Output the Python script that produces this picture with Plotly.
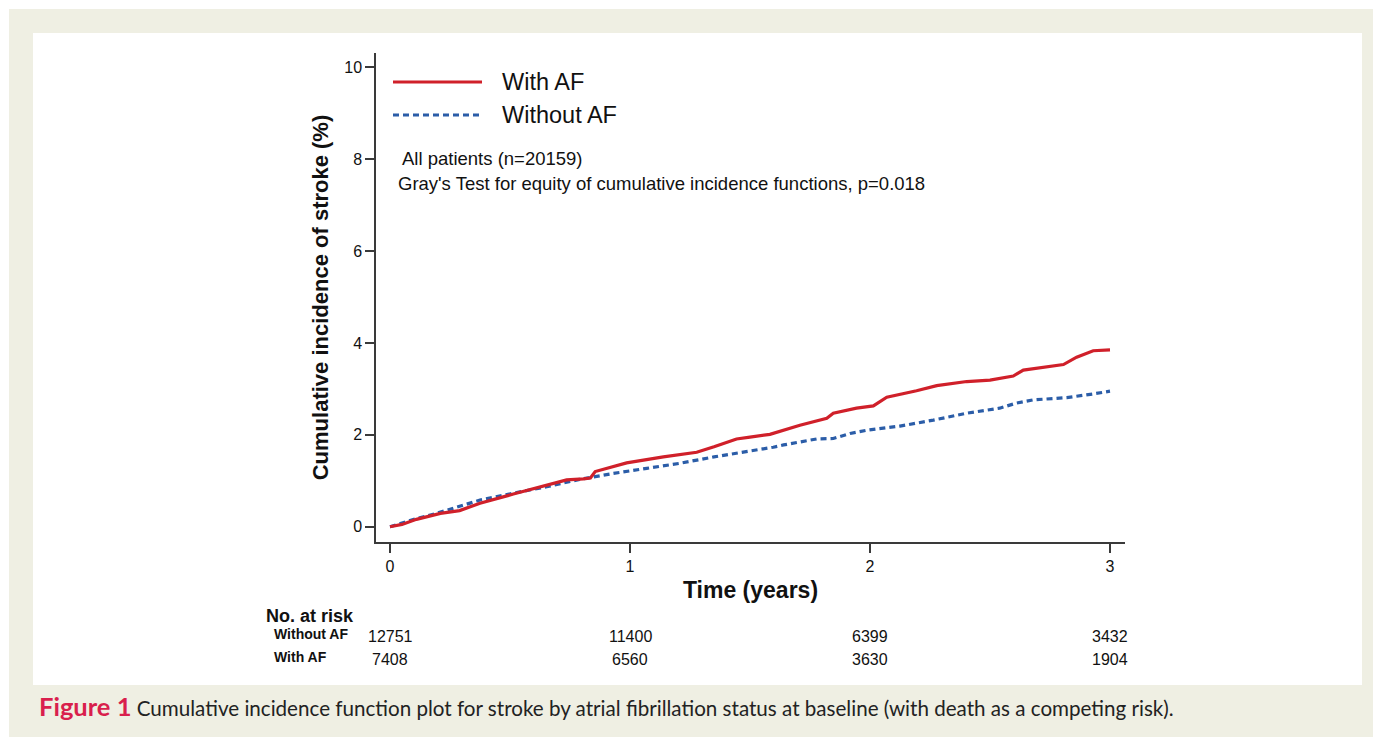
import plotly.graph_objects as go

# ---- data ----
t_with = [0, 0.05, 0.11, 0.21, 0.29, 0.375, 0.514, 0.653, 0.736, 0.806, 0.835, 0.855, 0.931, 0.986,
          1.139, 1.278, 1.35, 1.444, 1.5, 1.583, 1.708, 1.82, 1.847, 1.944, 2.014, 2.07, 2.194,
          2.278, 2.403, 2.5, 2.597, 2.639, 2.806, 2.861, 2.93, 3.0]
y_with = [0, 0.05, 0.16, 0.29, 0.35, 0.51, 0.71, 0.91, 1.02, 1.04, 1.06, 1.2, 1.31, 1.39,
          1.52, 1.62, 1.74, 1.91, 1.95, 2.01, 2.21, 2.36, 2.47, 2.58, 2.63, 2.82, 2.96,
          3.07, 3.16, 3.19, 3.28, 3.41, 3.53, 3.69, 3.83, 3.85]

t_without = [0, 0.1, 0.2, 0.236, 0.375, 0.514, 0.653, 0.79, 0.93, 1.07, 1.208, 1.35, 1.486,
             1.597, 1.64, 1.778, 1.847, 1.917, 1.986, 2.125, 2.264, 2.403, 2.54, 2.61, 2.68,
             2.82, 2.93, 3.0]
y_without = [0, 0.16, 0.3, 0.36, 0.58, 0.73, 0.87, 1.03, 1.16, 1.27, 1.38, 1.52, 1.63,
             1.73, 1.78, 1.91, 1.92, 2.03, 2.10, 2.19, 2.32, 2.47, 2.58, 2.69, 2.76,
             2.81, 2.89, 2.95]

risk_times = [0, 1, 2, 3]
risk_without = ["12751", "11400", "6399", "3432"]
risk_with = ["7408", "6560", "3630", "1904"]

x_ticks = [0, 1, 2, 3]
y_ticks = [0, 2, 4, 6, 8, 10]

RED = "#D0202A"
BLUE = "#2B5DA8"
AXIS = "#3a3a3a"
FONT = "Liberation Sans, Arial, sans-serif"

fig = go.Figure()
fig.add_trace(go.Scatter(x=t_without, y=y_without, mode="lines", name="Without AF",
                         line=dict(color=BLUE, width=3.2, dash="6px,4px"), showlegend=False))
fig.add_trace(go.Scatter(x=t_with, y=y_with, mode="lines", name="With AF",
                         line=dict(color=RED, width=3.2), showlegend=False))

W, H = 1373, 737
L, R, T, B = 376, 1125, 53, 542
pw, ph = R - L, B - T

def px(x):
    return (x - L) / pw

def py(y):
    return (B - y) / ph

shapes = [
    dict(type="rect", xref="paper", yref="paper", x0=px(9), x1=px(1373), y0=py(737), y1=py(9),
         fillcolor="#EFEFE3", line=dict(width=0), layer="below"),
    dict(type="rect", xref="paper", yref="paper", x0=px(33), x1=px(1362), y0=py(685), y1=py(33),
         fillcolor="white", line=dict(width=0), layer="below"),
    # legend samples
    dict(type="line", xref="paper", yref="paper", x0=px(393), x1=px(482), y0=py(82), y1=py(82),
         line=dict(color=RED, width=3)),
    dict(type="line", xref="paper", yref="paper", x0=px(393), x1=px(482), y0=py(115), y1=py(115),
         line=dict(color=BLUE, width=3, dash="6px,4px")),
]

ann = []
ann.append(dict(xref="paper", yref="paper", x=px(500), y=py(82), text="With AF", showarrow=False,
                xanchor="left", yanchor="middle", font=dict(family=FONT, size=23.5, color="#111")))
ann.append(dict(xref="paper", yref="paper", x=px(500), y=py(115), text="Without AF", showarrow=False,
                xanchor="left", yanchor="middle", font=dict(family=FONT, size=23.5, color="#111")))
ann.append(dict(xref="paper", yref="paper", x=px(400), y=py(158), text="All patients (n=20159)",
                showarrow=False, xanchor="left", yanchor="middle",
                font=dict(family=FONT, size=18.5, color="#111")))
ann.append(dict(xref="paper", yref="paper", x=px(396), y=py(183),
                text="Gray's Test for equity of cumulative incidence functions, p=0.018",
                showarrow=False, xanchor="left", yanchor="middle",
                font=dict(family=FONT, size=18.5, color="#111")))

# risk table
ann.append(dict(xref="paper", yref="paper", x=px(264), y=py(616), text="<b>No. at risk</b>",
                showarrow=False, xanchor="left", yanchor="middle",
                font=dict(family=FONT, size=18, color="#111")))
ann.append(dict(xref="paper", yref="paper", x=px(272), y=py(634), text="<b>Without AF</b>",
                showarrow=False, xanchor="left", yanchor="middle",
                font=dict(family=FONT, size=14, color="#111")))
ann.append(dict(xref="paper", yref="paper", x=px(272), y=py(657), text="<b>With AF</b>",
                showarrow=False, xanchor="left", yanchor="middle",
                font=dict(family=FONT, size=14, color="#111")))
for tt, a, b in zip(risk_times, risk_without, risk_with):
    ann.append(dict(xref="x", yref="paper", x=tt, y=py(636), text=a, showarrow=False,
                    xanchor="center", yanchor="middle", font=dict(family=FONT, size=16, color="#111")))
    ann.append(dict(xref="x", yref="paper", x=tt, y=py(659), text=b, showarrow=False,
                    xanchor="center", yanchor="middle", font=dict(family=FONT, size=16, color="#111")))

# caption
ann.append(dict(xref="paper", yref="paper", x=px(37), y=py(706),
                text="<span style='color:#D91F4D;font-size:25.5px'><b>Figure 1</b></span> Cumulative incidence function plot for stroke by atrial fibrillation status at baseline (with death as a competing risk).",
                showarrow=False, xanchor="left", yanchor="middle",
                font=dict(family="Lato, Open Sans, sans-serif", size=20.6, color="#222")))

x_per = 240.0
y_per = (526.7 - 67.3) / 10
fig.update_layout(
    width=W, height=H,
    margin=dict(l=L, r=W - R, t=T, b=H - B, pad=0),
    paper_bgcolor="white", plot_bgcolor="white",
    shapes=shapes, annotations=ann,
    font=dict(family=FONT, color="#111"),
    xaxis=dict(range=[(L - 390) / x_per, (R - 390) / x_per], tickvals=x_ticks,
               showline=True, linecolor=AXIS, linewidth=1.5, ticks="outside", ticklen=9,
               tickwidth=1.5, tickcolor=AXIS, showgrid=False, zeroline=False,
               tickfont=dict(size=16, family=FONT, color="#111"),
               title=dict(text="<b>Time (years)</b>", font=dict(size=23, family=FONT, color="#111"),
                          standoff=8)),
    yaxis=dict(range=[-(B - 526.7) / y_per, (526.7 - T) / y_per], tickvals=y_ticks,
               showline=True, linecolor=AXIS, linewidth=1.5, ticks="outside", ticklen=9,
               tickwidth=1.5, tickcolor=AXIS, showgrid=False, zeroline=False,
               tickfont=dict(size=16, family=FONT, color="#111"),
               title=dict(text="<b>Cumulative incidence of stroke (%)</b>",
                          font=dict(size=22, family=FONT, color="#111"), standoff=10)),
)

fig.write_html("out.html", config={"displayModeBar": False},
               post_script="document.body.style.margin='0';")
